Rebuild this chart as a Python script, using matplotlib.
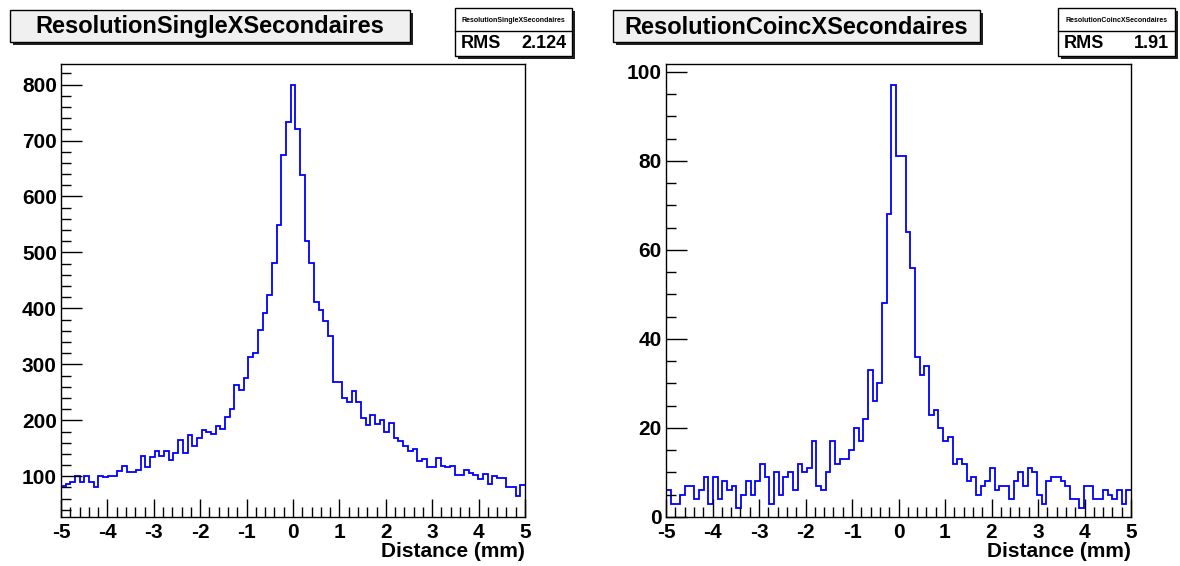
import numpy as np
import matplotlib
matplotlib.use("Agg")
import matplotlib.pyplot as plt
from matplotlib.patches import Rectangle
from matplotlib.ticker import MultipleLocator

plt.rcParams['font.family'] = ['Liberation Sans', 'DejaVu Sans']
plt.rcParams['font.weight'] = 'bold'
plt.rcParams['axes.unicode_minus'] = False

# histogram contents, 99 bins from -5 to 5
single_counts = [
    82, 86, 89, 101, 90, 101, 90, 80, 100, 98,
    101, 101, 109, 118, 107, 107, 112, 136, 117, 135,
    145, 136, 145, 129, 142, 164, 141, 174, 154, 168,
    183, 180, 175, 189, 184, 206, 220, 263, 254, 276,
    314, 321, 362, 391, 424, 482, 549, 674, 734,
    800,
    720, 639, 521, 482, 412, 397, 378, 350, 269, 269,
    239, 232, 252, 232, 205, 192, 209, 194, 201, 180,
    196, 169, 163, 154, 145, 149, 128, 131, 116, 116,
    132, 118, 117, 118, 102, 102, 111, 106, 102, 95,
    104, 86, 101, 97, 97, 80, 80, 64, 85,
]
coinc_counts = [
    6, 3, 3, 5, 7, 7, 4, 6, 9, 3,
    9, 4, 8, 6, 7, 2, 5, 8, 5, 8,
    12, 9, 3, 10, 5, 9, 10, 6, 12, 10,
    11, 17, 7, 6, 10, 17, 12, 13, 13, 15,
    20, 17, 22, 33, 26, 30, 48, 68,
    97, 81, 81, 64, 56, 36, 32, 34,
    23, 24, 20, 17, 18, 12, 13, 12, 8, 9,
    5, 7, 8, 11, 6, 7, 7, 4, 8, 10,
    7, 11, 10, 5, 3, 8, 9, 9, 8, 7,
    4, 4, 2, 7, 7, 4, 4, 6, 5, 4,
    6, 3, 6,
]
titles = ["ResolutionSingleXSecondaires", "ResolutionCoincXSecondaires"]
rms_values = ["2.124", "1.91"]
x_label = "Distance (mm)"

W, H = 1180, 566
fig = plt.figure(figsize=(W / 100, H / 100), dpi=100)
fig.patch.set_facecolor("white")


def fx(x):
    return x / W


def fy(y):
    return 1 - y / H


def add_axes(x0, x1, y0, y1):
    return fig.add_axes([fx(x0), fy(y1), fx(x1) - fx(x0), fy(y0) - fy(y1)])


def paved_box(x0, y0, x1, y1, face):
    # ROOT style pave with a dark shadow at right/bottom
    fig.patches.append(Rectangle((fx(x0 + 3), fy(y1 + 3)), fx(x1 - x0), fy(y0) - fy(y1),
                                 transform=fig.transFigure, facecolor="#222222",
                                 edgecolor="none", zorder=1))
    fig.patches.append(Rectangle((fx(x0), fy(y1)), fx(x1 - x0), fy(y0) - fy(y1),
                                 transform=fig.transFigure, facecolor=face,
                                 edgecolor="black", linewidth=1, zorder=2))


def draw_panel(ax, counts, ymin, ymax, ymajor, yminor):
    edges = np.linspace(-5, 5, len(counts) + 1)
    ax.stairs(counts, edges, baseline=None, color="#0000ff", linewidth=1.3)
    ax.set_xlim(-5, 5)
    ax.set_ylim(ymin, ymax)
    ax.xaxis.set_major_locator(MultipleLocator(1))
    ax.xaxis.set_minor_locator(MultipleLocator(0.2))
    ax.yaxis.set_major_locator(MultipleLocator(ymajor))
    ax.yaxis.set_minor_locator(MultipleLocator(yminor))
    ax.tick_params(which="both", direction="in", top=False, right=False,
                   labelsize=15, width=1, color="black")
    ax.tick_params(axis="y", which="major", length=15, pad=3)
    ax.tick_params(axis="y", which="minor", length=7)
    ax.tick_params(axis="x", which="major", length=13, pad=4)
    ax.tick_params(axis="x", which="minor", length=7)
    for lab in ax.get_xticklabels() + ax.get_yticklabels():
        lab.set_fontweight("bold")
    for sp in ax.spines.values():
        sp.set_linewidth(1)
        sp.set_color("black")
    ax.set_xlabel(x_label, fontsize=15, fontweight="bold", loc="right", labelpad=0)


ax1 = add_axes(61, 525, 64, 517)
smax, smin = max(single_counts), min(single_counts)
draw_panel(ax1, single_counts, smin - 0.05 * (smax - smin), smax + 0.05 * (smax - smin), 100, 20)

ax2 = add_axes(666, 1131, 64, 517)
cmax, cmin = max(coinc_counts), min(coinc_counts)
draw_panel(ax2, coinc_counts, 0, cmax + 0.05 * (cmax - cmin), 20, 5)

# title boxes
title_boxes = [(10, 10, 410, 42), (613, 10, 980, 42)]
for (x0, y0, x1, y1), t in zip(title_boxes, titles):
    paved_box(x0, y0, x1, y1, "#f0f0f0")
    fig.text(fx((x0 + x1) / 2), fy((y0 + y1) / 2 + 1), t, ha="center", va="center",
             fontsize=17, fontweight="bold", zorder=3)

# stats boxes
stat_boxes = [(455, 8, 572, 56), (1058, 8, 1175, 56)]
for (x0, y0, x1, y1), t, r in zip(stat_boxes, titles, rms_values):
    paved_box(x0, y0, x1, y1, "white")
    fig.lines.append(plt.Line2D([fx(x0), fx(x1)], [fy(31), fy(31)], transform=fig.transFigure,
                                color="black", linewidth=1, zorder=3))
    fig.text(fx((x0 + x1) / 2), fy(20), t, ha="center", va="center",
             fontsize=5, fontweight="bold", zorder=3)
    fig.text(fx(x0 + 6), fy(44), "RMS", ha="left", va="center",
             fontsize=13, fontweight="bold", zorder=3)
    fig.text(fx(x1 - 6), fy(44), r, ha="right", va="center",
             fontsize=13, fontweight="bold", zorder=3)

fig.savefig("out.png", dpi=100)
